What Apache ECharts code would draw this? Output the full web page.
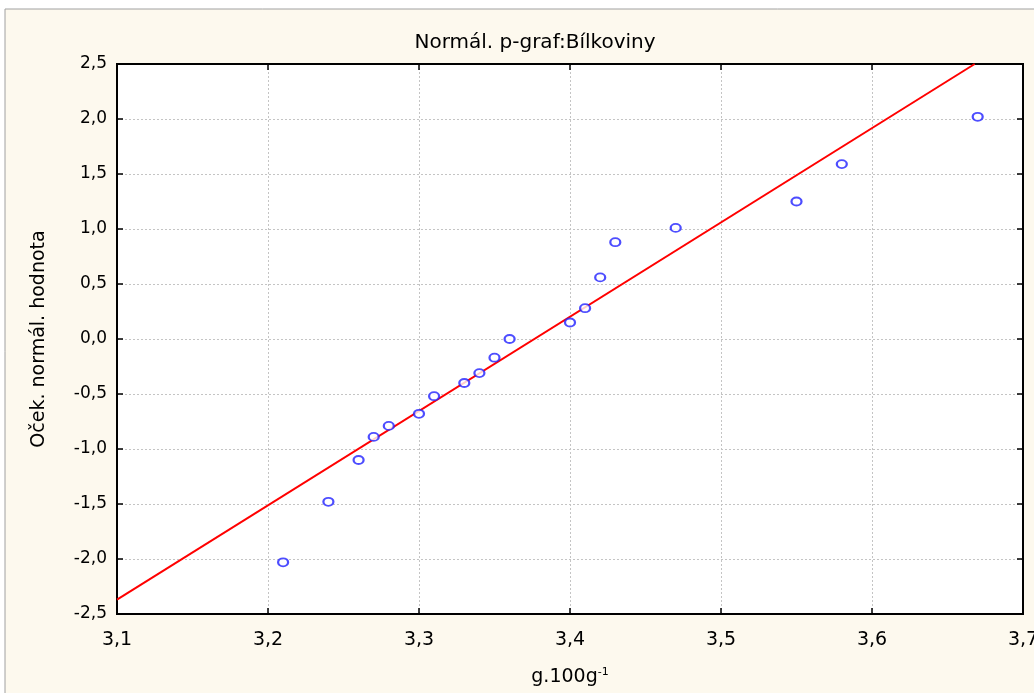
<!DOCTYPE html>
<html><head><meta charset="utf-8">
<script src="https://cdn.jsdelivr.net/npm/echarts@6/dist/echarts.min.js"></script>
<style>html,body{margin:0;padding:0;background:#fff;overflow:hidden}#c{width:1034px;height:693px}</style>
</head><body><div id="c"></div>
<script>
const xVals = [3.21, 3.24, 3.26, 3.27, 3.28, 3.30, 3.31, 3.33, 3.34, 3.35, 3.36, 3.40, 3.41, 3.42, 3.43, 3.47, 3.55, 3.58, 3.67];
const yVals = [-2.03, -1.48, -1.10, -0.89, -0.79, -0.68, -0.52, -0.40, -0.31, -0.17, 0.00, 0.15, 0.28, 0.56, 0.88, 1.01, 1.25, 1.59, 2.02];
const lineX = [3.1, 3.668];
const lineY = [-2.37, 2.5];
const titleText = 'Normál. p-graf:Bílkoviny';
const xName = 'g.100g';
const xNameSup = '-1';
const yName = 'Oček. normál. hodnota';

const fmt = v => v.toFixed(1).replace('.', ',');
const chart = echarts.init(document.getElementById('c'), null, {renderer: 'canvas', width: 1034, height: 693});
const font = 'DejaVu Sans, Liberation Sans, sans-serif';
const axisCommon = {
  axisLine: {show: true, onZero: false, lineStyle: {color: '#000', width: 2}},
  axisTick: {show: true, inside: true, length: 6, lineStyle: {color: '#000', width: 1.5}},
};
chart.setOption({
  backgroundColor: '#fff',
  animation: false,
  graphic: [{
    type: 'rect', z: -10, silent: true,
    shape: {x: 5, y: 9, width: 1040, height: 700},
    style: {fill: '#fdf9ee', stroke: '#a0a0a0', lineWidth: 1}
  }],
  title: {
    text: titleText, left: 530, top: 28, textAlign: 'center',
    textStyle: {fontFamily: font, fontSize: 20, fontWeight: 'normal', color: '#000'}
  },
  grid: {left: 117, right: 11, top: 64, bottom: 79, containLabel: false, outerBoundsMode: 'none',
    show: true, backgroundColor: '#fff', borderColor: '#000', borderWidth: 2},
  xAxis: [{
    type: 'value', min: 3.1, max: 3.7, interval: 0.1, position: 'bottom',
    ...axisCommon,
    axisLabel: {formatter: fmt, margin: 17, color: '#000', fontSize: 19, fontFamily: font},
    splitLine: {show: true, lineStyle: {color: '#c4c4c4', type: [2, 2], width: 1}},
    name: '{n|' + xName + '}{s|' + xNameSup + '}', nameLocation: 'middle', nameGap: 53,
    nameTextStyle: {rich: {
      n: {fontSize: 19, fontFamily: font, color: '#000'},
      s: {fontSize: 11, fontFamily: font, color: '#000', verticalAlign: 'top', padding: [0, 0, 10, 0]}
    }}
  }, {
    type: 'value', min: 3.1, max: 3.7, interval: 0.1, position: 'top',
    ...axisCommon, axisLabel: {show: false}, splitLine: {show: false}
  }],
  yAxis: [{
    type: 'value', min: -2.5, max: 2.5, interval: 0.5, position: 'left',
    ...axisCommon,
    axisLabel: {formatter: fmt, margin: 10, color: '#000', fontSize: 17, fontFamily: font},
    splitLine: {show: true, lineStyle: {color: '#c4c4c4', type: [2, 2], width: 1}},
    name: yName, nameLocation: 'middle', nameGap: 68, nameRotate: 90,
    nameTextStyle: {fontSize: 19, fontFamily: font, color: '#000'}
  }, {
    type: 'value', min: -2.5, max: 2.5, interval: 0.5, position: 'right',
    ...axisCommon, axisLabel: {show: false}, splitLine: {show: false}
  }],
  series: [{
    type: 'line', data: lineX.map((x, i) => [x, lineY[i]]),
    showSymbol: false, symbol: 'none', lineStyle: {color: '#ff0000', width: 2}, z: 2
  }, {
    type: 'scatter', data: xVals.map((x, i) => [x, yVals[i]]),
    symbol: 'emptyCircle', symbolSize: [10, 8],
    itemStyle: {color: '#2020ff', borderColor: '#2020ff', borderWidth: 1.3}, z: 3
  }]
});
</script></body></html>
